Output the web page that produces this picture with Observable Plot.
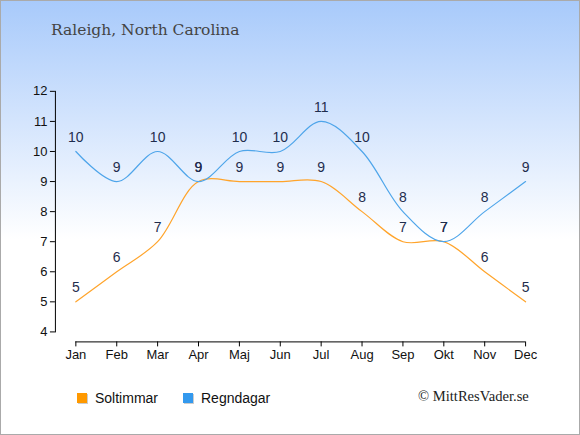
<!DOCTYPE html>
<html><head><meta charset="utf-8">
<script src="https://cdn.jsdelivr.net/npm/d3@7"></script>
<script src="https://cdn.jsdelivr.net/npm/@observablehq/plot@0.6"></script>
<style>
html,body{margin:0;padding:0;}
#wrap{position:relative;width:580px;height:435px;box-sizing:border-box;border:1px solid #aaa;
  background:linear-gradient(to bottom,#a8cafb 0%,#ffffff 55%,#ffffff 100%);overflow:hidden;}
#chart{position:absolute;left:-1px;top:-1px;}
#title{position:absolute;left:50px;top:20px;font-family:"DejaVu Serif",serif;font-size:15.5px;color:#444;}
.leg{position:absolute;top:389px;font-family:"Liberation Sans",Arial,sans-serif;font-size:14px;color:#111;display:flex;align-items:center;}
.sw{width:10px;height:10px;margin-right:8px;box-shadow:1px 1px 0 #ccc;}
#copy{position:absolute;left:417px;top:387px;font-family:"Liberation Serif",serif;font-size:14.6px;color:#222;}
</style></head>
<body>
<div id="wrap">
  <div id="chart"></div>
  <div id="title">Raleigh, North Carolina</div>
  <div class="leg" style="left:76px"><div class="sw" style="background:#ff9900"></div>Soltimmar</div>
  <div class="leg" style="left:182px"><div class="sw" style="background:#3399ee"></div>Regndagar</div>
  <div id="copy">© MittResVader.se</div>
</div>
<script>
const months = ["Jan","Feb","Mar","Apr","Maj","Jun","Jul","Aug","Sep","Okt","Nov","Dec"];
const soltimmar = [5,6,7,9,9,9,9,8,7,7,6,5];
const regndagar = [10,9,10,9,10,10,11,10,8,7,8,9];
const yTicks = [4,5,6,7,8,9,10,11,12];

const sol = months.map((m,i)=>({i, v: soltimmar[i]}));
const reg = months.map((m,i)=>({i, v: regndagar[i]}));
const orange = "#ffa42b", blue = "#4ea5ea", lab = "#1f2d4d";

const chart = Plot.plot({
  width: 580, height: 372,
  marginLeft: 55, marginRight: 54, marginTop: 91, marginBottom: 40,
  style: {background: "transparent", fontFamily: "'Liberation Sans', Arial, sans-serif", fontSize: "13px", color: "#111"},
  x: {domain: [-0.5, months.length - 1], axis: null},
  y: {domain: [4, 12], axis: null},
  marks: [
    Plot.frame({anchor: "left", stroke: "#000"}),
    Plot.axisY({ticks: yTicks, tickSize: 5, tickPadding: 3, stroke: "#000", fill: "#111", fontSize: 13, label: null}),
    Plot.ruleY([4], {x1: () => 0, x2: () => months.length - 1, dy: 10, stroke: "#000"}),
    Plot.axisX({ticks: months.map((m,i)=>i), tickFormat: i => months[i], tickSize: 5, tickPadding: 3, dy: 10, stroke: "#000", fill: "#111", fontSize: 13, label: null}),
    Plot.line(sol, {x: "i", y: "v", stroke: orange, strokeWidth: 1.2, curve: "catmull-rom"}),
    Plot.line(reg, {x: "i", y: "v", stroke: blue, strokeWidth: 1.2, curve: "catmull-rom"}),
    Plot.text(sol, {x: "i", y: "v", text: "v", dy: -14, fill: lab, fontSize: 14}),
    Plot.text(reg, {x: "i", y: "v", text: "v", dy: -14, fill: lab, fontSize: 14})
  ]
});
document.getElementById("chart").appendChild(chart);
</script>
</body></html>
